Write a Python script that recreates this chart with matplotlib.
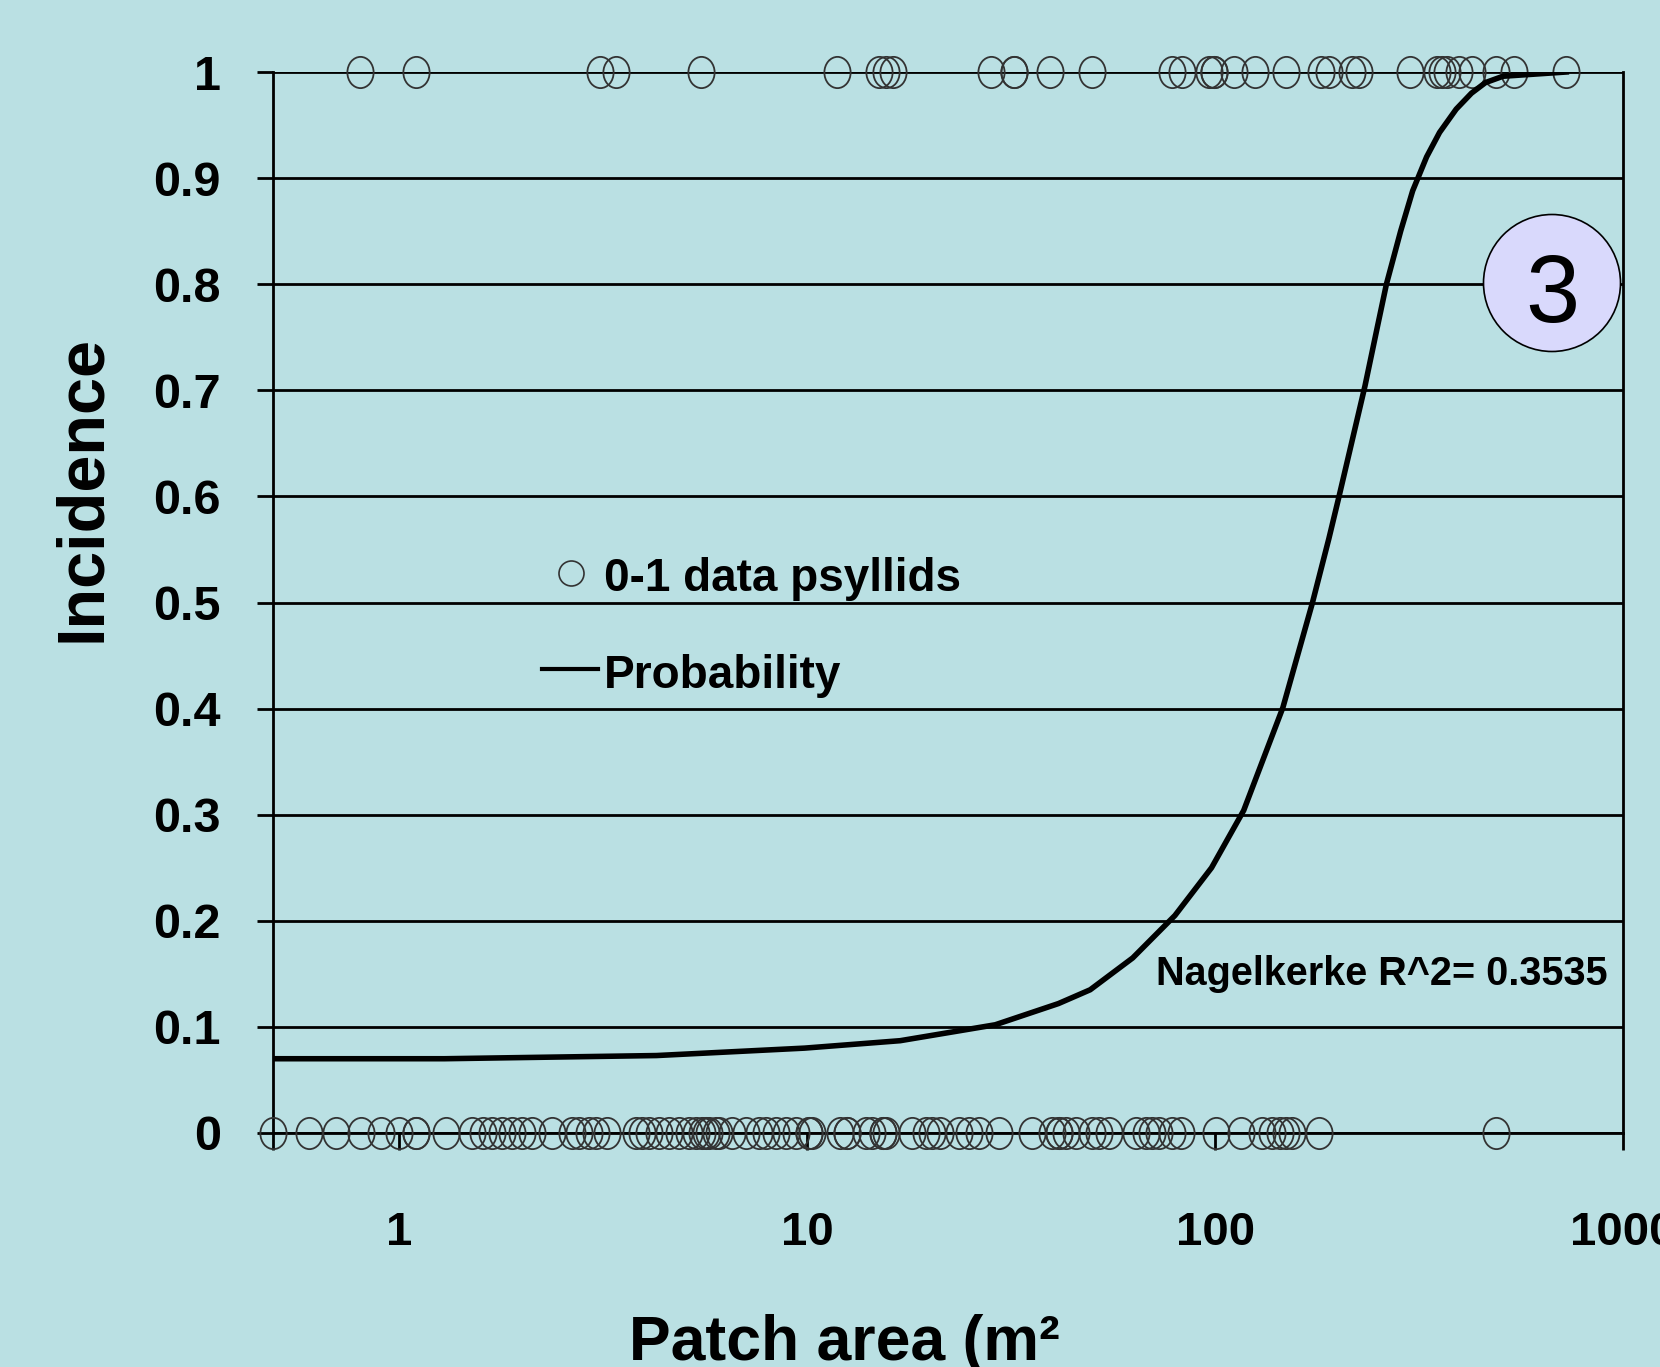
import matplotlib
matplotlib.use('Agg')
import matplotlib.pyplot as plt
import numpy as np
from matplotlib.path import Path
from matplotlib.transforms import Affine2D
from matplotlib.lines import Line2D
from matplotlib.patches import Ellipse
from matplotlib.ticker import NullLocator

# 数据：斑块面积 (m²) 与 0-1 发生数据
top_x = [0.80, 1.10, 3.11, 3.40, 5.49, 11.8, 15.0, 15.6, 16.2, 28.2, 32.2, 32.2,
         39.4, 50.0, 78.5, 83.0, 96.7, 99.5, 99.5, 111, 125, 149, 182, 190, 217,
         225, 301, 350, 360, 370, 396, 426, 488, 541, 725]
bot_x = [0.49, 0.602, 0.701, 0.807, 0.903, 1.0, 1.10, 1.10, 1.30, 1.51, 1.60, 1.69,
         1.79, 1.89, 2.00, 2.12, 2.37, 2.65, 2.76, 2.92, 3.04, 3.22, 3.81, 3.94,
         4.10, 4.34, 4.59, 4.86, 5.14, 5.34, 5.53, 5.65, 5.75, 5.98, 6.09, 6.55,
         7.08, 7.63, 7.93, 8.39, 8.88, 9.40, 10.1, 10.1, 10.3, 12.0, 12.5, 12.5,
         13.9, 14.4, 15.3, 15.3, 15.6, 18.1, 19.6, 20.2, 21.1, 23.6, 24.9, 26.4,
         29.6, 35.6, 39.9, 41.5, 41.5, 43.1, 45.6, 50.0, 52.0, 55.0, 64.0, 67.7,
         70.1, 72.9, 78.5, 82.5, 100.5, 116, 130, 138, 144, 149, 154, 180, 488]

# 概率曲线
curve_x = [0.49, 1.29, 4.27, 9.85, 16.9, 28.9, 41.3, 49.4, 62.8, 79.7, 98, 117.5,
           146.6, 173, 190, 201, 233, 250, 263, 285, 305, 330, 355, 390, 425, 460,
           508, 726]
curve_y = [0.07, 0.07, 0.073, 0.08, 0.087, 0.102, 0.122, 0.135, 0.165, 0.205, 0.25,
           0.304, 0.401, 0.499, 0.56, 0.599, 0.704, 0.76, 0.80, 0.85, 0.888, 0.92,
           0.943, 0.965, 0.98, 0.99, 0.996, 1.0]

x_ticks = [1, 10, 100, 1000]
y_ticks = [0, 0.1, 0.2, 0.3, 0.4, 0.5, 0.6, 0.7, 0.8, 0.9, 1]
y_tick_labels = ['0', '0.1', '0.2', '0.3', '0.4', '0.5', '0.6', '0.7', '0.8', '0.9', '1']

sBg = '#bae0e3'
plt.rcParams['font.family'] = ['Liberation Sans', 'DejaVu Sans']
plt.rcParams['font.weight'] = 'bold'

fig = plt.figure(figsize=(16.6, 13.67), dpi=100, facecolor=sBg)
ax = fig.add_axes([273 / 1660, 1 - 1133 / 1367, 1350 / 1660, 1061 / 1367])
ax.set_facecolor(sBg)

# 椭圆形空心标记
mkEllipse = Path.unit_circle().transformed(Affine2D().scale(0.84, 1.0))
ax.plot(bot_x, np.zeros(len(bot_x)), linestyle='none', marker=mkEllipse, ms=22.5,
        mfc='none', mec='#333333', mew=1.3, clip_on=False, zorder=3)
ax.plot(top_x, np.ones(len(top_x)), linestyle='none', marker=mkEllipse, ms=22.5,
        mfc='none', mec='#333333', mew=1.3, clip_on=False, zorder=3)
ax.plot(curve_x, curve_y, color='black', lw=4, zorder=4, solid_joinstyle='round')

ax.set_xscale('log')
ax.set_xlim(0.49, 1000)
ax.set_ylim(0, 1)
ax.set_xticks([0.49] + x_ticks)
ax.set_xticklabels([''] + [str(v) for v in x_ticks])
ax.xaxis.set_minor_locator(NullLocator())
ax.set_yticks(y_ticks)
ax.set_yticklabels(y_tick_labels)
ax.set_axisbelow(True)
ax.grid(axis='y', color='black', lw=2.0)
ax.grid(axis='x', visible=False)
ax.tick_params(axis='y', length=11.5, width=2.0, pad=26, labelsize=35, direction='out')
ax.tick_params(axis='x', length=12, width=2.0, pad=44, labelsize=34, direction='out')
ax.spines['top'].set_visible(False)
for sSide in ['left', 'right', 'bottom']:
    ax.spines[sSide].set_linewidth(2.0)
    ax.spines[sSide].set_color('black')

# 轴标题
fig.text(83 / 1660, 1 - 488 / 1367, 'Incidence', rotation=90, ha='center', va='center',
         fontsize=48, fontweight='bold')
fig.text(844 / 1660, 1 - 1360 / 1367, 'Patch area (m²', ha='center', va='baseline',
         fontsize=45, fontweight='bold')

# 图例（手动绘制）
fig.add_artist(Line2D([571 / 1660], [1 - 573 / 1367], marker='o', ms=18, mfc='none',
                      mec='#333333', mew=1.2, linestyle='none', transform=fig.transFigure))
fig.text(604 / 1660, 1 - 591 / 1367, '0-1 data psyllids', ha='left', va='baseline',
         fontsize=33, fontweight='bold')
fig.add_artist(Line2D([542 / 1660, 598 / 1660], [1 - 669 / 1367, 1 - 669 / 1367],
                      color='black', lw=3, transform=fig.transFigure))
fig.text(604 / 1660, 1 - 688 / 1367, 'Probability', ha='left', va='baseline',
         fontsize=33, fontweight='bold')

fig.text(1156 / 1660, 1 - 985 / 1367, 'Nagelkerke R^2= 0.3535', ha='left', va='baseline',
         fontsize=28.5, fontweight='bold')

# 编号圆圈
objCircle = Ellipse((1552 / 1660, 1 - 283 / 1367), 137 / 1660, 137 / 1367,
                    transform=fig.transFigure, facecolor='#d9d9fc', edgecolor='black',
                    lw=1.2, zorder=5)
fig.add_artist(objCircle)
fig.text(1552 / 1660, 1 - 322 / 1367, '3', ha='center', va='baseline', fontsize=70,
         fontweight='normal', zorder=6)

fig.savefig('out.png', dpi=100, facecolor=sBg)
